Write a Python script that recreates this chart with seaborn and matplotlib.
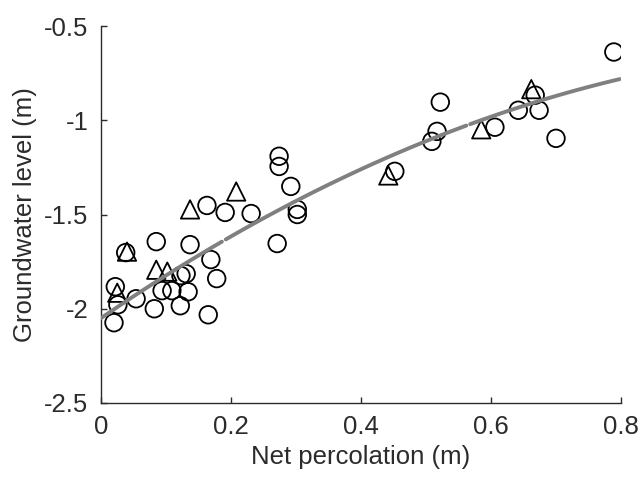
import numpy as np
import pandas as pd
import matplotlib
matplotlib.use("Agg")
import matplotlib.pyplot as plt
import seaborn as sns

# ---- data ----
circle_x = [0.789, 0.522, 0.517, 0.509, 0.452, 0.606, 0.642, 0.668, 0.674, 0.700,
            0.274, 0.274, 0.292, 0.302, 0.302, 0.163, 0.191, 0.231,
            0.085, 0.137, 0.038, 0.169, 0.178, 0.271, 0.123, 0.131, 0.022, 0.026,
            0.054, 0.094, 0.109, 0.134, 0.082, 0.122, 0.165, 0.020]
circle_y = [-0.638, -0.904, -1.059, -1.112, -1.271, -1.037, -0.947, -0.867, -0.947, -1.096,
            -1.191, -1.245, -1.351, -1.473, -1.500, -1.452, -1.489, -1.495,
            -1.644, -1.660, -1.702, -1.739, -1.840, -1.654, -1.824, -1.814, -1.883, -1.979,
            -1.947, -1.904, -1.904, -1.910, -2.000, -1.984, -2.032, -2.074]
tri_x = [0.442, 0.585, 0.662, 0.137, 0.208, 0.040, 0.085, 0.102, 0.025]
tri_y = [-1.293, -1.048, -0.835, -1.473, -1.378, -1.697, -1.793, -1.803, -1.915]

# fitted curve y = a + b*x + c*x^2 (coefficients)
fit_coef = [-2.05, 2.3625, -0.969]
fit_segments = [(0.0, 0.186), (0.192, 0.562), (0.568, 0.798)]

x_ticks = [0, 0.2, 0.4, 0.6, 0.8]
x_ticklabels = ["0", "0.2", "0.4", "0.6", "0.8"]
y_ticks = [-2.5, -2, -1.5, -1, -0.5]
y_ticklabels = ["-2.5", "-2", "-1.5", "-1", "-0.5"]

sns.set_theme(style="ticks")
plt.rcParams["font.family"] = ["Liberation Sans", "DejaVu Sans"]

fig = plt.figure(figsize=(6.41, 4.80), dpi=100)
ax = fig.add_axes([101 / 641, 1 - 403 / 480, 520 / 641, 377 / 480])

pts = pd.DataFrame({
    "x": circle_x + tri_x,
    "y": circle_y + tri_y,
    "kind": ["circle"] * len(circle_x) + ["triangle"] * len(tri_x),
})
for kind, mk, size in [("circle", "o", 160), ("triangle", "^", 175)]:
    sub = pts[pts["kind"] == kind]
    sns.scatterplot(data=sub, x="x", y="y", marker=mk, s=size,
                    facecolors="none", edgecolor="black", linewidth=1.3,
                    ax=ax, zorder=2, legend=False)

rows = []
for i, (x0, x1) in enumerate(fit_segments):
    xs = np.linspace(x0, x1, 60)
    ys = fit_coef[0] + fit_coef[1] * xs + fit_coef[2] * xs ** 2
    rows.append(pd.DataFrame({"x": xs, "y": ys, "seg": i}))
fit_df = pd.concat(rows)
sns.lineplot(data=fit_df, x="x", y="y", units="seg", estimator=None,
             color="#808080", linewidth=2.8, ax=ax, zorder=3, legend=False)

ax.set_xlim(0, 0.8)
ax.set_ylim(-2.5, -0.5)
ax.set_xticks(x_ticks)
ax.set_xticklabels(x_ticklabels)
ax.set_yticks(y_ticks)
ax.set_yticklabels(y_ticklabels)
txt = "#2b2b2b"
ax.tick_params(direction="in", length=4, width=1, colors=txt, labelsize=18.5, pad=9)
for s in ["left", "bottom"]:
    ax.spines[s].set_color(txt)
    ax.spines[s].set_linewidth(1.0)
sns.despine(ax=ax)
ax.set_xlabel("Net percolation (m)", fontsize=18.5, color=txt, labelpad=4)
ax.set_ylabel("Groundwater level (m)", fontsize=18.5, color=txt, labelpad=5)

fig.savefig("out.png", dpi=100)
